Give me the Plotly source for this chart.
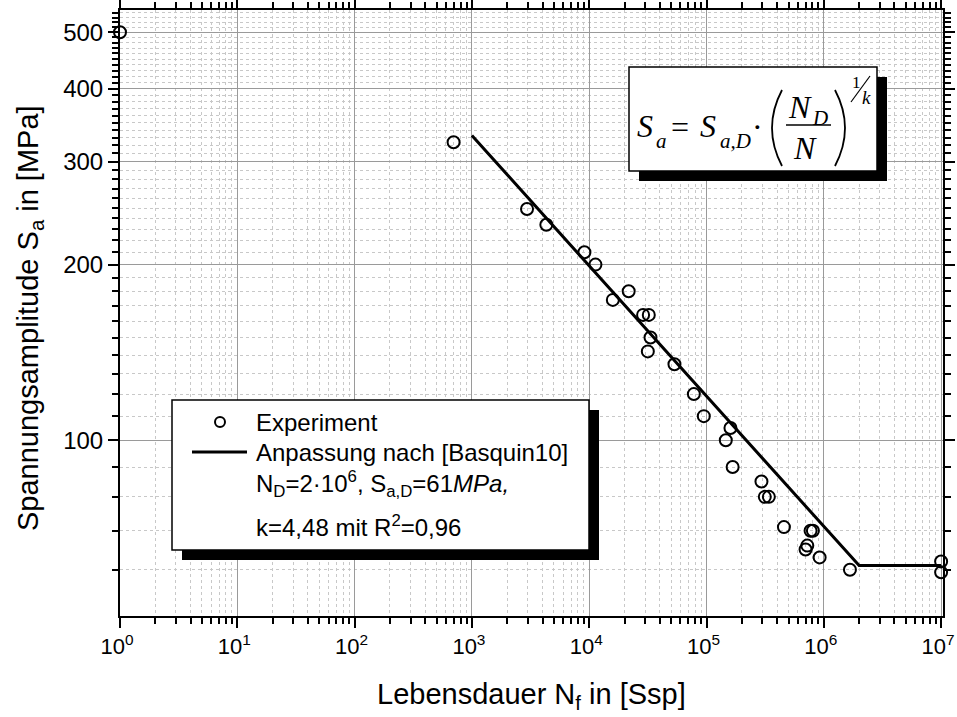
import numpy as np
import plotly.graph_objects as go

# --- experimental fatigue data (cycles to failure, stress amplitude in MPa) ---
N_exp = [1, 698, 2950, 4310, 9100, 11300, 15900, 21700, 28800, 32200, 33300,
         31600, 53300, 78000, 94800, 160000, 146000, 167000, 294000, 314000,
         340000, 457000, 771000, 807000, 723000, 699000, 921000, 1.67e6,
         1e7, 1e7]
S_exp = [500, 324, 249, 234, 210, 200, 174, 180, 164, 164, 150,
         142, 135, 120, 110, 105, 100, 90, 85, 80,
         80, 71, 70, 70, 66, 65, 63, 60,
         62, 59.4]

# --- Basquin fit parameters ---
N_D = 2e6
S_aD = 61
k = 4.48
R2 = 0.96
N_fit_start = 1e3
N_fit_end = 1e7

# fit line: power law down to the knee, constant endurance limit afterwards
N_fit = [N_fit_start, N_D, N_fit_end]
S_fit = [S_aD * (N_D / n) ** (1 / k) if n < N_D else S_aD for n in N_fit]

# --- axis ticks ---
x_ticks = [10 ** e for e in range(0, 8)]
x_ticktext = [f"10<sup>{e}</sup>" for e in range(0, 8)]
x_minor = [m * 10 ** e for e in range(0, 7) for m in range(2, 10)]
y_ticks = [100, 200, 300, 400, 500]
y_minor = [v for v in range(60, 550, 10) if v not in y_ticks]

# --- plot-area geometry in pixels ---
FIG_W, FIG_H = 957, 717
L, R, T, B = 120, 943, 10, 616
W, H = R - L, B - T


def px(x):
    return (x - L) / W


def py(y):
    return (B - y) / H


SANS = "Liberation Sans, Arial, sans-serif"
SERIF = "Liberation Serif, Times New Roman, serif"

fig = go.Figure()

fig.add_trace(go.Scatter(
    x=N_fit, y=S_fit, mode="lines",
    line=dict(color="black", width=3),
    cliponaxis=False, showlegend=False,
))
fig.add_trace(go.Scatter(
    x=N_exp, y=S_exp, mode="markers",
    marker=dict(symbol="circle-open", size=12, color="black",
                line=dict(color="black", width=2)),
    cliponaxis=False, showlegend=False,
))

axis_common = dict(
    type="log", automargin=False, ticklabeloverflow="allow",
    showline=True, linecolor="black", linewidth=2,
    mirror="ticks", ticks="outside", ticklen=10, tickwidth=2, tickcolor="black",
    showgrid=True, gridcolor="#9a9a9a", gridwidth=1,
    zeroline=False,
)

fig.update_xaxes(
    **axis_common,
    range=[0, 7.016],
    tickmode="array", tickvals=x_ticks, ticktext=x_ticktext,
    tickfont=dict(family=SANS, size=22, color="black"),
    ticklabelshift=-3,
    minor=dict(tickmode="array", tickvals=x_minor, ticks="outside",
               ticklen=6, tickwidth=2, tickcolor="black",
               showgrid=True, gridcolor="#c8c8c8", griddash="dot", gridwidth=1),
)
fig.update_yaxes(
    **axis_common,
    range=[np.log10(50), 2.7372],
    tickmode="array", tickvals=y_ticks, ticktext=[str(v) for v in y_ticks],
    tickfont=dict(family=SANS, size=24, color="black"),
    minor=dict(tickmode="array", tickvals=y_minor, ticks="outside",
               ticklen=6, tickwidth=2, tickcolor="black",
               showgrid=True, gridcolor="#c8c8c8", griddash="dot", gridwidth=1),
)

shapes = []
annotations = []


def box_with_shadow(x0, y0, x1, y1, off=10):
    shapes.append(dict(type="rect", xref="paper", yref="paper",
                       x0=px(x0 + off), x1=px(x1 + off),
                       y0=py(y1 + off), y1=py(y0 + off),
                       fillcolor="black", line=dict(width=0), layer="above"))
    shapes.append(dict(type="rect", xref="paper", yref="paper",
                       x0=px(x0), x1=px(x1), y0=py(y1), y1=py(y0),
                       fillcolor="white", line=dict(color="black", width=1.5),
                       layer="above"))


def text(x, y, s, size, family=SANS, xanchor="left", angle=0):
    annotations.append(dict(xref="paper", yref="paper", x=px(x), y=py(y),
                            text=s, showarrow=False, xanchor=xanchor,
                            yanchor="middle", textangle=angle,
                            font=dict(family=family, size=size, color="black")))


# --- legend box ---
box_with_shadow(172, 400, 589, 550)
shapes.append(dict(type="circle", xref="paper", yref="paper",
                   x0=px(215), x1=px(225), y0=py(427), y1=py(417),
                   line=dict(color="black", width=2), layer="above"))
shapes.append(dict(type="line", xref="paper", yref="paper",
                   x0=px(192), x1=px(247), y0=py(452), y1=py(452),
                   line=dict(color="black", width=3), layer="above"))
text(254, 422, "Experiment", 24)
text(254, 452, "Anpassung nach [Basquin10]", 24)
text(254, 484, f"N<sub>D</sub>=2·10<sup>6</sup>, S<sub>a,D</sub>={S_aD}<i>MPa,</i>", 24)
k_txt = f"{k}".replace(".", ",")
r2_txt = f"{R2}".replace(".", ",")
text(254, 526, f"k={k_txt} mit R<sup>2</sup>={r2_txt}", 24)

# --- formula box ---
box_with_shadow(629, 67, 877, 171)
text(645, 126, "<i>S</i>", 32, SERIF, "center")
text(661, 141, "<i>a</i>", 21, SERIF, "center")
text(680, 127, "=", 32, SERIF, "center")
text(708, 126, "<i>S</i>", 32, SERIF, "center")
text(735, 141, "<i>a,D</i>", 21, SERIF, "center")
text(757, 127, "·", 32, SERIF, "center")
text(800, 107, "<i>N</i>", 32, SERIF, "center")
text(820, 118, "<i>D</i>", 21, SERIF, "center")
text(805, 148, "<i>N</i>", 32, SERIF, "center")
text(856, 83, "1", 17, SERIF, "center")
text(866, 97, "<i>k</i>", 19, SERIF, "center")
# fraction bar, brackets and the slash of the exponent
shapes.append(dict(type="line", xref="paper", yref="paper",
                   x0=px(786), x1=px(831), y0=py(125), y1=py(125),
                   line=dict(color="black", width=1.5), layer="above"))
shapes.append(dict(type="path", xref="paper", yref="paper",
                   path=f"M {px(782)},{py(90)} Q {px(762)},{py(128)} {px(782)},{py(166)}",
                   line=dict(color="black", width=1.8), layer="above"))
shapes.append(dict(type="path", xref="paper", yref="paper",
                   path=f"M {px(835)},{py(90)} Q {px(855)},{py(128)} {px(835)},{py(166)}",
                   line=dict(color="black", width=1.8), layer="above"))
shapes.append(dict(type="line", xref="paper", yref="paper",
                   x0=px(851), x1=px(870), y0=py(102), y1=py(76),
                   line=dict(color="black", width=1.2), layer="above"))

# --- axis titles ---
text((L + R) / 2, 696, "Lebensdauer N<sub>f</sub> in [Ssp]", 29, SANS, "center")
text(30, 318, "Spannungsamplitude S<sub>a</sub> in [MPa]", 29, SANS, "center", -90)

fig.update_layout(
    width=FIG_W, height=FIG_H,
    margin=dict(l=L, r=FIG_W - R, t=T, b=FIG_H - B),
    paper_bgcolor="white", plot_bgcolor="white",
    shapes=shapes, annotations=annotations,
    showlegend=False,
)

fig.write_html("out.html")
